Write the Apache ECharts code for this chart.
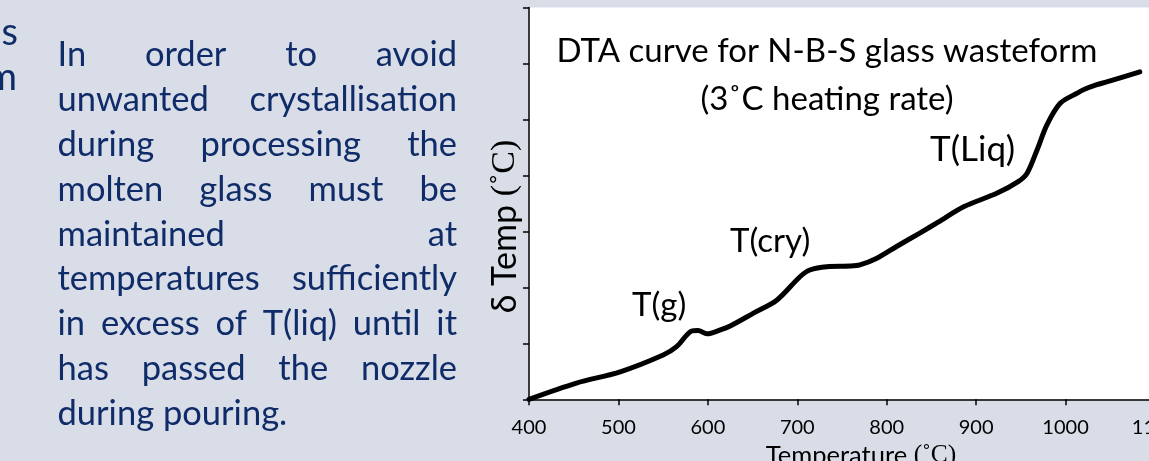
<!DOCTYPE html>
<html><head><meta charset="utf-8">
<script src="https://cdn.jsdelivr.net/npm/echarts@6/dist/echarts.min.js"></script>
<style>html,body{margin:0;padding:0;background:#D8DDE7;overflow:hidden}#c{width:1149px;height:461px}</style>
</head><body><div id="c"></div>
<script>
// ---- data ----
const temperature = [400, 453, 502, 550, 565, 582, 589, 599, 614, 625, 651, 677, 703, 714, 733, 759, 770, 789, 811, 837, 858, 886, 923, 947, 957, 968, 979, 994, 1013, 1020, 1035, 1046, 1083];
const deltaTemp   = [0, 0.29, 0.49, 0.79, 0.94, 1.22, 1.23, 1.17, 1.24, 1.31, 1.54, 1.77, 2.19, 2.31, 2.37, 2.38, 2.40, 2.52, 2.73, 2.97, 3.17, 3.44, 3.68, 3.89, 4.04, 4.45, 4.90, 5.29, 5.47, 5.53, 5.62, 5.67, 5.85];
const xTickLabels = [400, 500, 600, 700, 800, 900, 1000, 1100];
const titleLines = ['DTA curve for N-B-S glass wasteform', '(3˚C heating rate)'];
const annotations = ['T(g)', 'T(cry)', 'T(Liq)'];
const paragraphLines = [
  'In order to avoid',
  'unwanted crystallisation',
  'during processing the',
  'molten glass must be',
  'maintained at',
  'temperatures sufficiently',
  'in excess of T(liq) until it',
  'has passed the nozzle',
  'during pouring.'
];
const fragments = ['as', 'm'];

// ---- layout ----
const SANS = 'Lato';
const NAVY = '#0F2C69';
const chart = echarts.init(document.getElementById('c'));

function txt(x, y, text, size, opts) {
  opts = opts || {};
  const align = opts.align || 'left';
  return {
    type: 'text', x: x, y: y, rotation: opts.rotation || 0, silent: true, z: 100,
    style: {
      text: text, font: size + 'px ' + (opts.family || SANS), fill: opts.color || '#000',
      align: align, verticalAlign: 'middle', textAlign: align, textVerticalAlign: 'middle',
      rich: opts.rich
    }
  };
}

function justified(lines, size, x0, x1, yMid0, dy) {
  const ctx = document.createElement('canvas').getContext('2d');
  const font = size + 'px ' + SANS;
  ctx.font = font;
  const out = [];
  lines.forEach((line, i) => {
    const y = yMid0 + i * dy;
    const words = line.split(' ');
    if (i === lines.length - 1 || words.length < 2) {
      out.push(txt(x0, y, line, size, {color: NAVY}));
      return;
    }
    const w = words.map(s => ctx.measureText(s).width);
    const gap = (x1 - x0 - w.reduce((a, b) => a + b, 0)) / (words.length - 1);
    let x = x0;
    words.forEach((s, j) => { out.push(txt(x, y, s, size, {color: NAVY})); x += w[j] + gap; });
  });
  return out;
}

const PF = 34.5;     // paragraph font size
const TF = 33;       // chart title font
const graphics = []
  .concat(justified(paragraphLines, PF, 57.5, 457, 66.7 - 0.33 * PF, 44.8))
  .concat([
    txt(18, 45 - 0.33 * 38, fragments[0], 38, {align: 'right', color: NAVY}),
    txt(17, 90 - 0.33 * 38, fragments[1], 38, {align: 'right', color: NAVY}),
    txt(827, 62 - 0.33 * TF, titleLines[0], TF, {align: 'center'}),
    txt(827, 110 - 0.33 * TF, titleLines[1], TF, {align: 'center'}),
    txt(632, 316 - 0.33 * TF, annotations[0], TF),
    txt(730, 252 - 0.33 * TF, annotations[1], TF),
    txt(930, 161 - 0.33 * 35, annotations[2], 35),
    // y axis name
    txt(505, 226.5, '{a|δ Temp }{b|(˚C)}', 34, {align: 'center', rotation: Math.PI / 2,
      rich: {a: {fontFamily: SANS, fontSize: 34, fill: '#000'}, b: {fontFamily: 'Liberation Serif', fontSize: 34, fill: '#000'}}}),
    // x axis name
    txt(861, 464 - 0.33 * 25.5, '{a|Temperature }{b|(˚C)}', 25.5, {align: 'center',
      rich: {a: {fontFamily: SANS, fontSize: 25.5, fill: '#000'}, b: {fontFamily: 'Liberation Serif', fontSize: 25.5, fill: '#000'}}})
  ]);

chart.setOption({
  backgroundColor: '#D8DDE7',
  animation: false,
  grid: {left: 529, right: -6, top: 7.5, bottom: 61.7, show: true, backgroundColor: '#ffffff', borderWidth: 0,
    containLabel: false, outerBoundsMode: 'none'},
  xAxis: {
    type: 'value', min: 400, max: 1100, interval: 100,
    axisLine: {show: true, onZero: false, lineStyle: {color: '#000', width: 1.5}},
    axisTick: {show: true, inside: false, length: 6, lineStyle: {color: '#000', width: 1.5}},
    axisLabel: {show: true, margin: 18, color: '#000', fontFamily: SANS, fontSize: 20,
      hideOverlap: false, showMaxLabel: true, showMinLabel: true,
      formatter: v => xTickLabels.includes(v) ? String(v) : ''},
    splitLine: {show: false}
  },
  yAxis: {
    type: 'value', min: 0, max: 7, interval: 1,
    axisLine: {show: true, onZero: false, lineStyle: {color: '#000', width: 1.5}},
    axisTick: {show: true, inside: false, length: 6, lineStyle: {color: '#000', width: 1.5}},
    axisLabel: {show: false},
    splitLine: {show: false}
  },
  series: [{
    type: 'line', clip: false, showSymbol: false, smooth: 0.3,
    data: temperature.map((t, i) => [t, deltaTemp[i]]),
    lineStyle: {color: '#000', width: 5, cap: 'round', join: 'round'}
  }],
  graphic: graphics
});
</script></body></html>
